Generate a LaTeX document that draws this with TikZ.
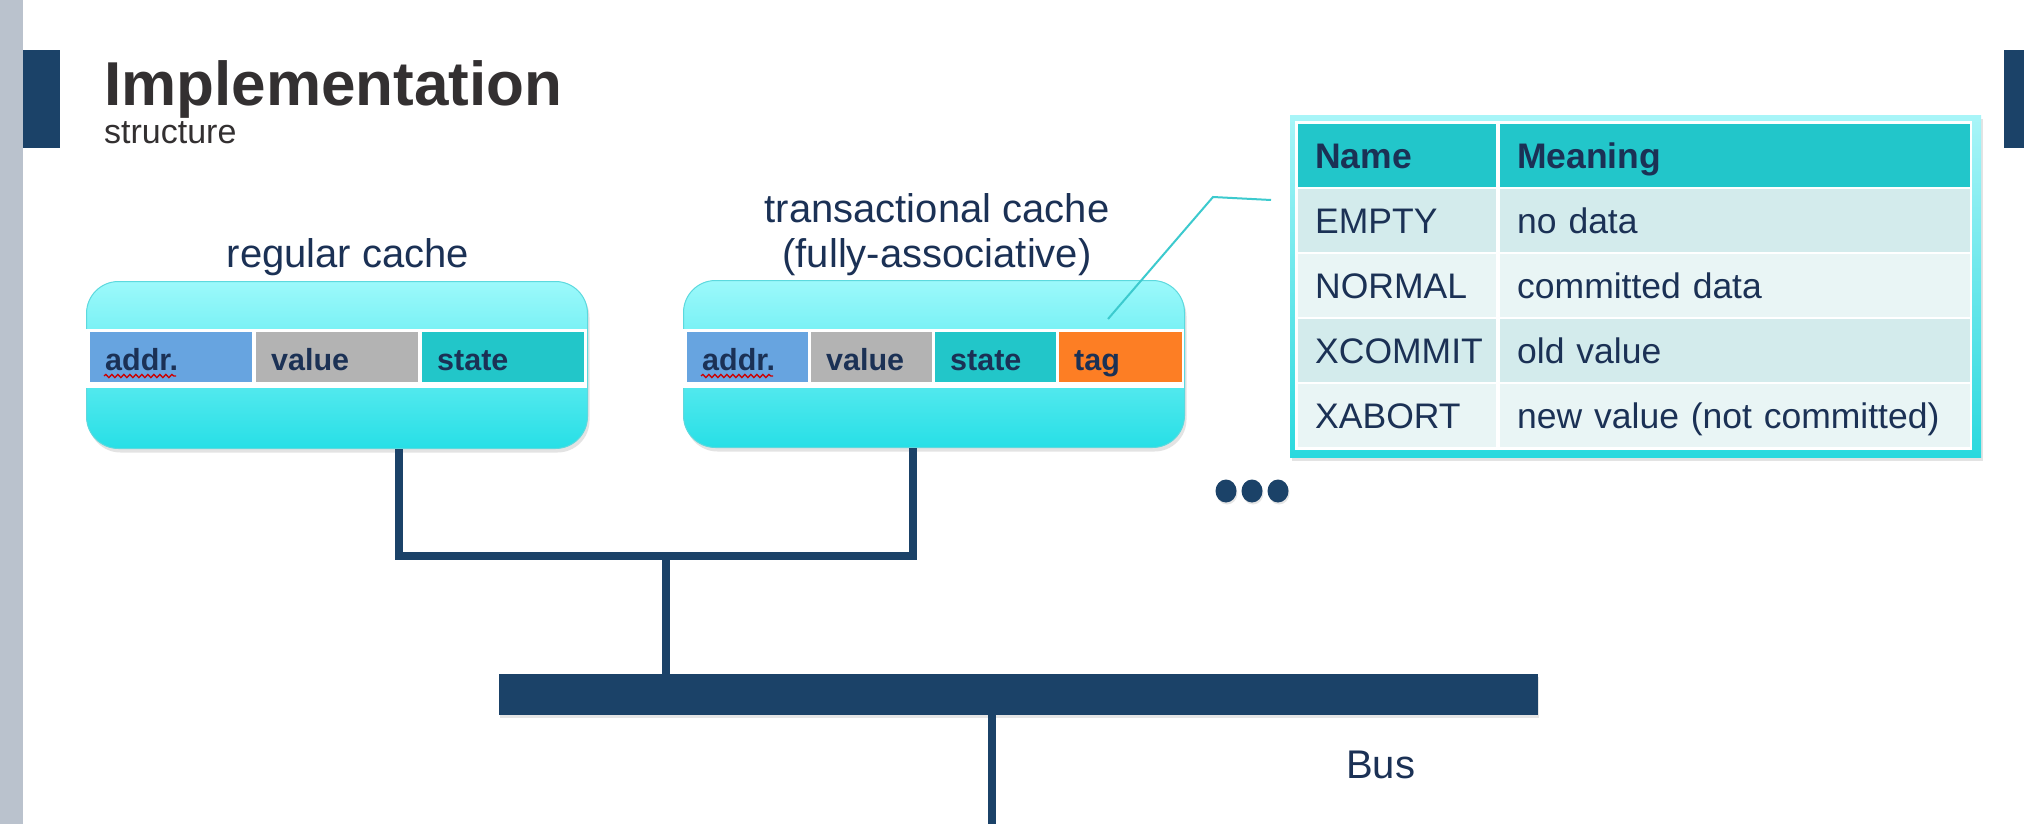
\documentclass[tikz,border=0pt]{standalone}
\usepackage{fontspec}
\setmainfont{Liberation Sans}
\usetikzlibrary{shadows,decorations.pathmorphing,calc,shapes.geometric}
\definecolor{navy}{HTML}{1B4268}
\definecolor{txtnavy}{HTML}{1B3155}
\definecolor{cylight}{HTML}{9CF9FB}
\definecolor{cydark}{HTML}{27DFE6}
\definecolor{cyborder}{HTML}{5CD9DE}
\definecolor{addrblue}{HTML}{67A4E0}
\definecolor{valgrey}{HTML}{B3B3B3}
\definecolor{stateteal}{HTML}{22C6C9}
\definecolor{tagorange}{HTML}{FD7E24}
\definecolor{hdrteal}{HTML}{22C6CA}
\definecolor{rowa}{HTML}{D3EBEC}
\definecolor{rowb}{HTML}{E9F5F5}
\definecolor{stripgrey}{HTML}{BAC2CD}
\definecolor{titlegrey}{HTML}{333031}
\definecolor{calloutc}{HTML}{3CCACE}
\definecolor{framelight}{HTML}{A8F5F8}
\definecolor{framedark}{HTML}{2BD9DE}
\begin{document}
\begin{tikzpicture}[x=1pt,y=-1pt,
  cachebox/.style={rounded corners=32pt, top color=cylight, bottom color=cydark, draw=cyborder, line width=1pt,
    drop shadow={opacity=0.22, shadow xshift=2pt, shadow yshift=-4pt},
    anchor=north west, inner sep=0pt, minimum width=501pt, minimum height=167pt},
  band/.style={fill=white, anchor=north west, inner sep=0pt, minimum width=501pt, minimum height=59pt},
  cell/.style={anchor=north west, inner xsep=15pt, inner ysep=0pt, minimum height=50pt,
    text height=28pt, text depth=2pt, align=left, font=\fontsize{30.5}{36}\selectfont\bfseries, text=txtnavy},
  tcell/.style={anchor=north west, inner xsep=17pt, inner ysep=0pt, minimum height=63pt,
    text height=26pt, text depth=0pt, align=left, font=\fontsize{35.5}{40}\selectfont, text=txtnavy},
  conn/.style={draw=navy, line width=8pt, line join=miter},
  squiggle/.style={draw=red!80!black, line width=1.3pt, decorate, decoration={snake, amplitude=1.6pt, segment length=6pt}},
  dotnode/.style={ellipse, fill=navy, inner sep=0pt, minimum width=21pt, minimum height=23pt, drop shadow={opacity=0.2, shadow xshift=1pt, shadow yshift=-2pt}},
  ttl/.style={inner sep=0pt, font=\fontsize{40}{45}\selectfont, text=txtnavy}
]
\useasboundingbox (0,0) rectangle (2024,824);
\fill[white] (0,0) rectangle (2024,824);

% side decorations
\fill[stripgrey] (0,0) rectangle (23,824);
\fill[navy] (23,50) rectangle (60,148);
\fill[navy] (2004,50) rectangle (2024,148);

% titles
\node[anchor=base west, inner sep=0pt, font=\fontsize{62}{70}\selectfont\bfseries, text=titlegrey] (title) at (104,106) {Implementation};
\node[anchor=base west, inner sep=0pt, font=\fontsize{34}{40}\selectfont, text=titlegrey] (subtitle) at (104,143) {structure};

% regular cache
\node[ttl, anchor=base] (regt) at (348,267) {regular cache};
\node[cachebox] (reg) at (86,281) {};
\node[band] (regband) at (86,329) {};
\node[cell, fill=addrblue, text width=132pt] (raddr) at (90,332) {addr.};
\node[cell, fill=valgrey, text width=132pt] (rval) at (256,332) {value};
\node[cell, fill=stateteal, text width=132pt] (rstate) at (422,332) {state};
\draw[squiggle] (104,376) -- (176,376);

% transactional cache
\node[ttl, anchor=base] (trt) at (937,267) {\begin{tabular}[b]{@{}c@{}}transactional cache\\(fully-associative)\end{tabular}};
\node[cachebox] (trans) at (683,280) {};
\node[band] (trband) at (683,329) {};
\node[cell, fill=addrblue, text width=91pt] (taddr) at (687,332) {addr.};
\node[cell, fill=valgrey, text width=91pt] (tval) at (811,332) {value};
\node[cell, fill=stateteal, text width=91pt] (tstate) at (935,332) {state};
\node[cell, fill=tagorange, text width=93pt] (ttag) at (1059,332) {tag};
\draw[squiggle] (701,376) -- (773,376);

% callout
\coordinate (callA) at (1108,319);
\coordinate (callB) at (1213,197);
\coordinate (callC) at (1271,200);
\draw[draw=calloutc, line width=2pt] (callA) -- (callB) -- (callC);

% table
\node[anchor=north west, inner sep=0pt, minimum width=691pt, minimum height=342pt, top color=framelight, bottom color=framedark,
  drop shadow={opacity=0.22, shadow xshift=2pt, shadow yshift=-4pt}] (frame) at (1290,115) {};
\fill[white] (1295,121) rectangle (1972,450);
\node[tcell, fill=hdrteal, text width=164pt, font=\fontsize{35.5}{40}\selectfont\bfseries] (hname) at (1298,124) {Name};
\node[tcell, fill=hdrteal, text width=436pt, font=\fontsize{35.5}{40}\selectfont\bfseries] (hmean) at (1500,124) {Meaning};
\node[tcell, fill=rowa, text width=164pt] (n1) at (1298,189) {EMPTY};
\node[tcell, fill=rowa, text width=436pt] (m1) at (1500,189) {no data};
\node[tcell, fill=rowb, text width=164pt] (n2) at (1298,254) {NORMAL};
\node[tcell, fill=rowb, text width=436pt] (m2) at (1500,254) {committed data};
\node[tcell, fill=rowa, text width=164pt] (n3) at (1298,319) {XCOMMIT};
\node[tcell, fill=rowa, text width=436pt] (m3) at (1500,319) {old value};
\node[tcell, fill=rowb, text width=164pt] (n4) at (1298,384) {XABORT};
\node[tcell, fill=rowb, text width=436pt] (m4) at (1500,384) {new value (not committed)};

% dots
\node[dotnode] (d1) at (1226,491) {};
\node[dotnode] (d2) at (1252,491) {};
\node[dotnode] (d3) at (1278,491) {};

% bus
\node[anchor=north west, fill=navy, inner sep=0pt, minimum width=1039pt, minimum height=41pt,
  drop shadow={opacity=0.2, shadow xshift=1pt, shadow yshift=-3pt}] (bus) at (499,674) {};
\node[anchor=base west, inner sep=0pt, font=\fontsize{40}{45}\selectfont, text=txtnavy] (buslabel) at (1346,778) {Bus};

% connectors
\coordinate (jl) at (399,556);
\coordinate (jr) at (913,556);
\coordinate (jm) at (666,556);
\coordinate (busout) at (992,824);
\draw[conn] (reg.south -| jl) -- (jl) -- (jr) -- (trans.south -| jr);
\draw[conn] (jm) -- (bus.north -| jm);
\draw[conn] (bus.south -| busout) -- (busout);
\end{tikzpicture}
\end{document}
